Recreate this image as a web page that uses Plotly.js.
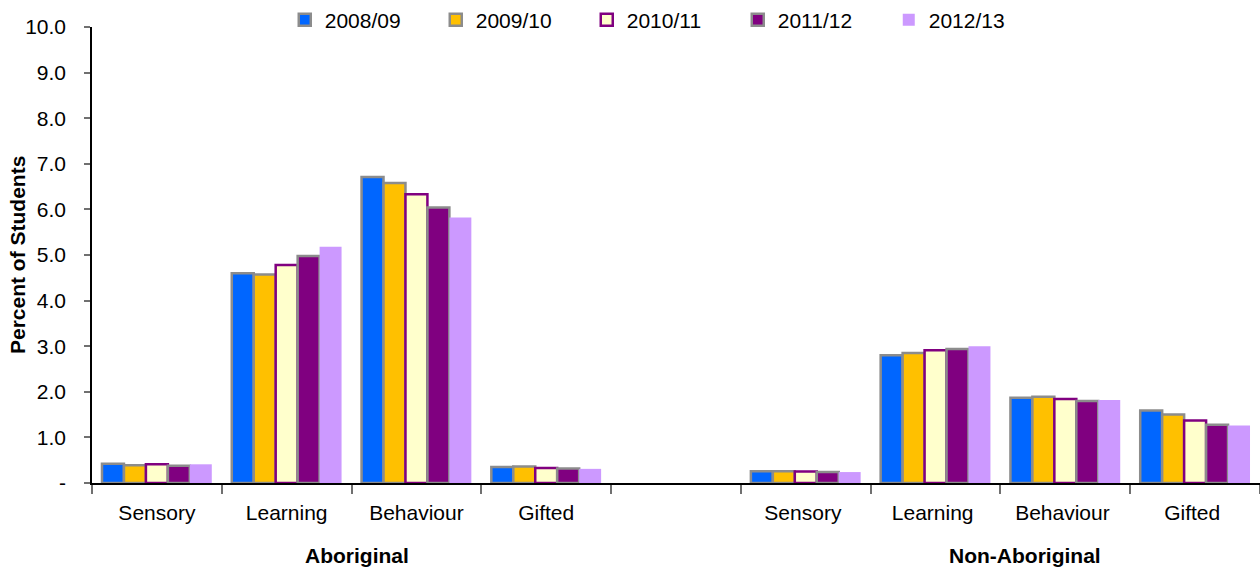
<!DOCTYPE html>
<html>
<head>
<meta charset="utf-8">
<script src="https://cdn.plot.ly/plotly-3.0.1.min.js"></script>
<style>html,body{margin:0;padding:0;background:#fff;}#chart{width:1260px;height:567px;}</style>
</head>
<body>
<div id="chart"></div>
<script>
// Categories: two groups of four, with an empty slot between them
const disabilityTypes = ['Sensory', 'Learning', 'Behaviour', 'Gifted'];
const groupNames = ['Aboriginal', 'Non-Aboriginal'];
const gapCategory = ' ';
// Non-Aboriginal categories get a trailing space so they stay distinct
const xCategories = disabilityTypes.concat([gapCategory], disabilityTypes.map(function (d) { return d + ' '; }));

const seriesNames = ['2008/09', '2009/10', '2010/11', '2011/12', '2012/13'];
const v2008_09 = [0.42, 4.60, 6.71, 0.35, null, 0.26, 2.80, 1.87, 1.59];
const v2009_10 = [0.39, 4.57, 6.58, 0.36, null, 0.26, 2.85, 1.89, 1.50];
const v2010_11 = [0.41, 4.78, 6.33, 0.33, null, 0.25, 2.91, 1.84, 1.37];
const v2011_12 = [0.38, 4.98, 6.04, 0.32, null, 0.24, 2.94, 1.80, 1.28];
const v2012_13 = [0.41, 5.18, 5.82, 0.31, null, 0.24, 3.00, 1.82, 1.26];
const seriesValues = [v2008_09, v2009_10, v2010_11, v2011_12, v2012_13];

const yTickVals = [0, 1, 2, 3, 4, 5, 6, 7, 8, 9, 10];
const yTickText = ['-', '1.0', '2.0', '3.0', '4.0', '5.0', '6.0', '7.0', '8.0', '9.0', '10.0'];
const yTitle = 'Percent of Students';

const fillColors = ['#0066FF', '#FFC000', '#FFFFCC', '#800080', '#CC99FF'];
const lineColors = ['#8c8c8c', '#8c8c8c', '#800080', '#8c8c8c', 'rgba(0,0,0,0)'];
const lineWidths = [2.5, 2.5, 2.5, 2.5, 0];

const FONT = 'Liberation Sans, Arial, sans-serif';
const FS = 21;

const traces = seriesNames.map(function (name, i) {
  return {
    type: 'bar',
    name: name,
    x: xCategories,
    y: seriesValues[i],
    marker: { color: fillColors[i], line: { color: lineColors[i], width: lineWidths[i] } },
    hoverinfo: 'x+y+name'
  };
});

const layout = {
  width: 1260,
  height: 567,
  margin: { l: 92, r: 0, t: 27, b: 84, autoexpand: false },
  paper_bgcolor: '#ffffff',
  plot_bgcolor: '#ffffff',
  font: { family: FONT, size: FS, color: '#000' },
  barmode: 'group',
  bargap: 0.154,
  bargroupgap: 0,
  showlegend: true,
  legend: {
    orientation: 'h',
    xref: 'container', yref: 'container',
    x: 0.226, xanchor: 'left',
    y: 0.9647, yanchor: 'middle',
    font: { family: FONT, size: FS, color: '#000' },
    itemwidth: 30,
    entrywidth: 106,
    bgcolor: 'rgba(0,0,0,0)',
    traceorder: 'normal'
  },
  xaxis: {
    type: 'category',
    categoryorder: 'array',
    categoryarray: xCategories,
    range: [-0.5, 8.5],
    tickson: 'boundaries',
    ticks: 'outside',
    ticklen: 9,
    tickcolor: '#707070',
    tickwidth: 1.5,
    ticklabelstandoff: 10,
    showline: true,
    linecolor: '#000',
    linewidth: 1.5,
    showgrid: false,
    zeroline: false,
    tickfont: { family: FONT, size: FS, color: '#000' },
    fixedrange: true
  },
  yaxis: {
    range: [0, 10],
    tickmode: 'array',
    tickvals: yTickVals,
    ticktext: yTickText,
    ticks: 'outside',
    ticklen: 6,
    tickcolor: '#707070',
    tickwidth: 1.5,
    ticklabelstandoff: 14,
    showline: true,
    linecolor: '#000',
    linewidth: 1.5,
    showgrid: false,
    zeroline: false,
    tickfont: { family: FONT, size: FS, color: '#000' },
    fixedrange: true
  },
  annotations: [
    { text: '<b>' + yTitle + '</b>', xref: 'paper', yref: 'paper', x: -0.0642, y: 0.5, xanchor: 'center', yanchor: 'middle', textangle: -90, showarrow: false, font: { family: FONT, size: FS, color: '#000' } },
    { text: '<b>' + groupNames[0] + '</b>', xref: 'paper', yref: 'paper', x: 0.2269, y: -0.158, xanchor: 'center', yanchor: 'middle', showarrow: false, font: { family: FONT, size: FS, color: '#000' } },
    { text: '<b>' + groupNames[1] + '</b>', xref: 'paper', yref: 'paper', x: 0.7988, y: -0.158, xanchor: 'center', yanchor: 'middle', showarrow: false, font: { family: FONT, size: FS, color: '#000' } }
  ]
};

Plotly.newPlot('chart', traces, layout, { displayModeBar: false, responsive: false });
</script>
</body>
</html>
